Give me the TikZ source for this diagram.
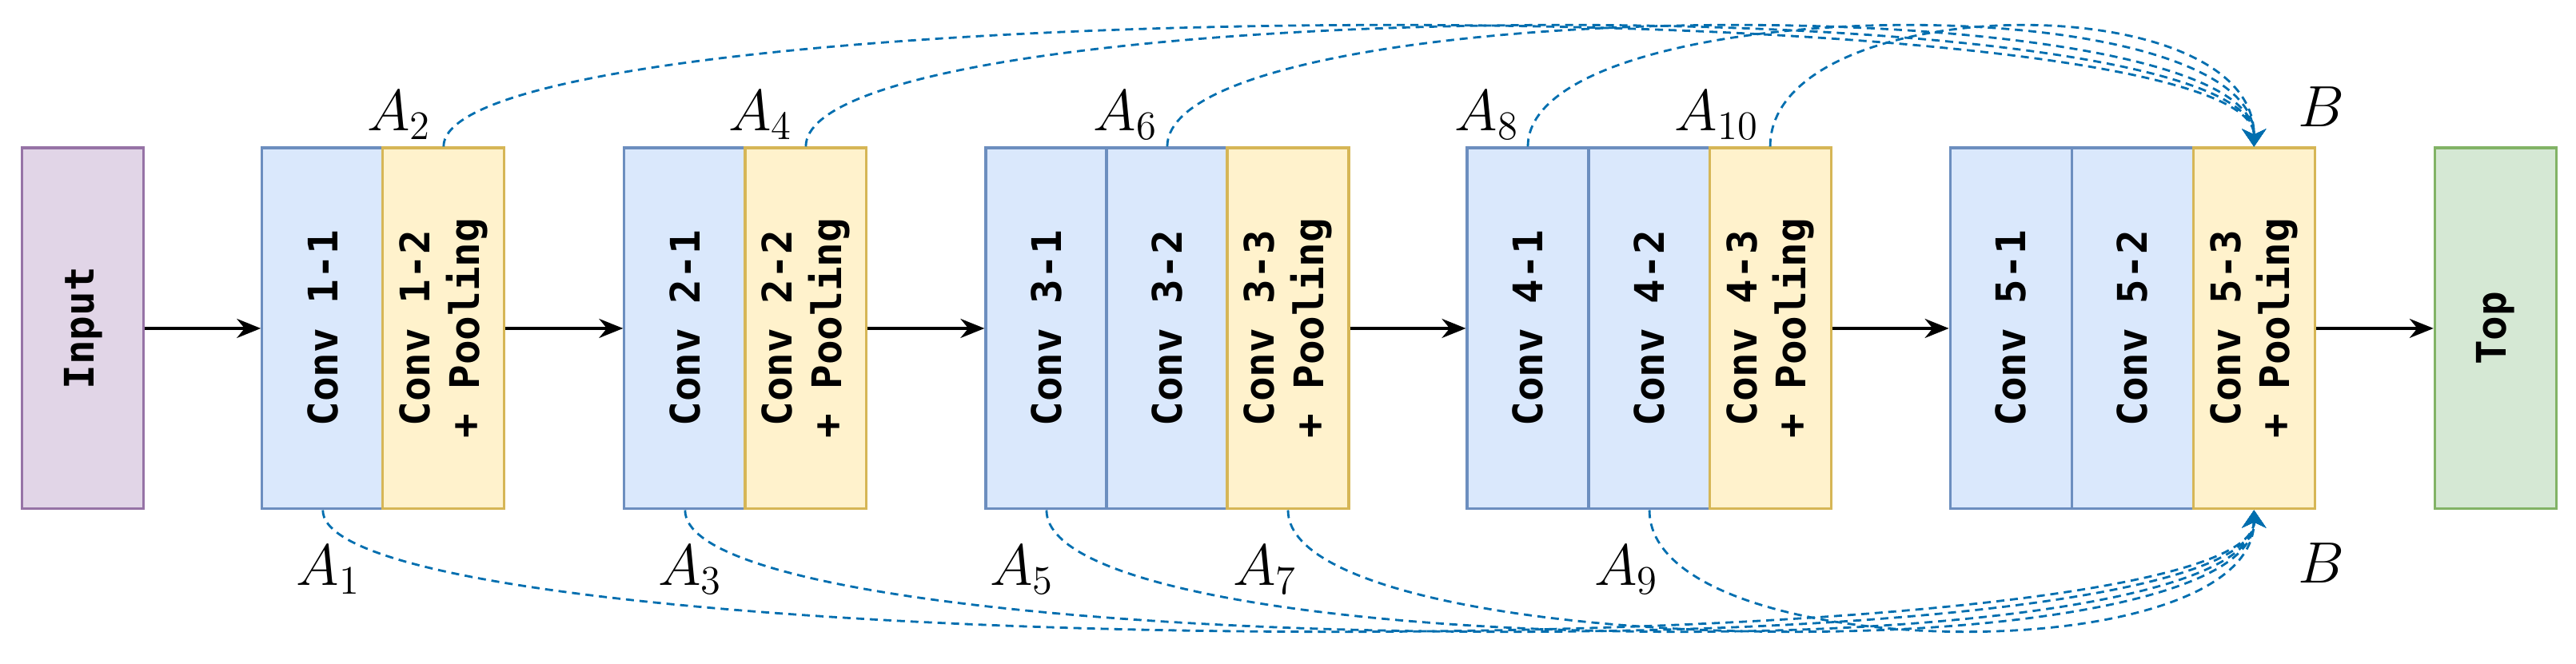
\documentclass[tikz,border=0pt]{standalone}
\usepackage{fontspec}
\newfontfamily\boxfont{DejaVu Sans Mono}
\usetikzlibrary{arrows.meta,calc}
\definecolor{cblue}{HTML}{DAE8FC}\definecolor{dblue}{HTML}{6C8EBF}
\definecolor{cyel}{HTML}{FFF2CC}\definecolor{dyel}{HTML}{D6B656}
\definecolor{cpur}{HTML}{E1D5E7}\definecolor{dpur}{HTML}{9673A6}
\definecolor{cgrn}{HTML}{D5E8D4}\definecolor{dgrn}{HTML}{82B366}
\definecolor{skip}{HTML}{006EAF}
\begin{document}
\begin{tikzpicture}[x=0.02055cm,y=-0.02055cm,
  box/.style={draw,line width=0.9pt,minimum width=1.52cm,minimum height=4.52cm,inner sep=0pt},
  conv/.style={box,fill=cblue,draw=dblue},
  pool/.style={box,fill=cyel,draw=dyel},
  txt/.style={rotate=90,align=center,font=\boxfont\bfseries\fontsize{14.5}{17.5}\selectfont},
  lab/.style={font=\fontsize{21}{24}\selectfont},
  flow/.style={line width=1pt,-{Stealth[length=0.3cm,width=0.24cm]}},
  sk/.style={skip,line width=0.8pt,dash pattern=on 0.1cm off 0.07cm,
    -{Stealth[length=0.22cm,width=0.3cm,inset=0.07cm]}}]
\useasboundingbox (0,0) rectangle (1568,404);
% Bloecke
\node[box,fill=cpur,draw=dpur] (in) at (50.5,200) {};
\node[txt] (tin) at (in) {Input};
\node[conv] (b11) at (196.5,200) {}; \node[txt] (t11) at (b11) {Conv 1-1};
\node[pool] (b12) at (270,200) {}; \node[txt] (t12) at (b12) {Conv 1-2\\+ Pooling};
\node[conv] (b21) at (417,200) {}; \node[txt] (t21) at (b21) {Conv 2-1};
\node[pool] (b22) at (490.5,200) {}; \node[txt] (t22) at (b22) {Conv 2-2\\+ Pooling};
\node[conv] (b31) at (637,200) {}; \node[txt] (t31) at (b31) {Conv 3-1};
\node[conv] (b32) at (710.5,200) {}; \node[txt] (t32) at (b32) {Conv 3-2};
\node[pool] (b33) at (784,200) {}; \node[txt] (t33) at (b33) {Conv 3-3\\+ Pooling};
\node[conv] (b41) at (930,200) {}; \node[txt] (t41) at (b41) {Conv 4-1};
\node[conv] (b42) at (1004,200) {}; \node[txt] (t42) at (b42) {Conv 4-2};
\node[pool] (b43) at (1077.5,200) {}; \node[txt] (t43) at (b43) {Conv 4-3\\+ Pooling};
\node[conv] (b51) at (1224,200) {}; \node[txt] (t51) at (b51) {Conv 5-1};
\node[conv] (b52) at (1298,200) {}; \node[txt] (t52) at (b52) {Conv 5-2};
\node[pool] (b53) at (1372,200) {}; \node[txt] (t53) at (b53) {Conv 5-3\\+ Pooling};
\node[box,fill=cgrn,draw=dgrn] (top) at (1519,200) {};
\node[txt] (ttop) at (top) {Top};
% Hauptfluss
\draw[flow] (in) -- (b11);
\draw[flow] (b12) -- (b21);
\draw[flow] (b22) -- (b31);
\draw[flow] (b33) -- (b41);
\draw[flow] (b43) -- (b51);
\draw[flow] (b53) -- (top);
% Beschriftungen
\node[lab] (a2) at (243,70) {$A_2$};
\node[lab] (a4) at (463,70) {$A_4$};
\node[lab] (a6) at (685,70) {$A_6$};
\node[lab] (a8) at (905,70) {$A_8$};
\node[lab] (a10) at (1045,70) {$A_{10}$};
\node[lab] (bt) at (1413,65) {$B$};
\node[lab] (a1) at (200,347) {$A_1$};
\node[lab] (a3) at (420,347) {$A_3$};
\node[lab] (a5) at (622,347) {$A_5$};
\node[lab] (a7) at (770,347) {$A_7$};
\node[lab] (a9) at (990,347) {$A_9$};
\node[lab] (bb) at (1413,343) {$B$};
% Skip-Verbindungen oben
\foreach \s in {b12,b22,b32,b41,b43}
  \draw[sk] (\s.north) .. controls ($(\s.north)+(0,-95)$) and ($(b53.north)+(0,-100)$) .. (b53.north);
% Skip-Verbindungen unten
\foreach \s in {b11,b21,b31,b33,b42}
  \draw[sk] (\s.south) .. controls ($(\s.south)+(0,95)$) and ($(b53.south)+(0,100)$) .. (b53.south);
\end{tikzpicture}
\end{document}
